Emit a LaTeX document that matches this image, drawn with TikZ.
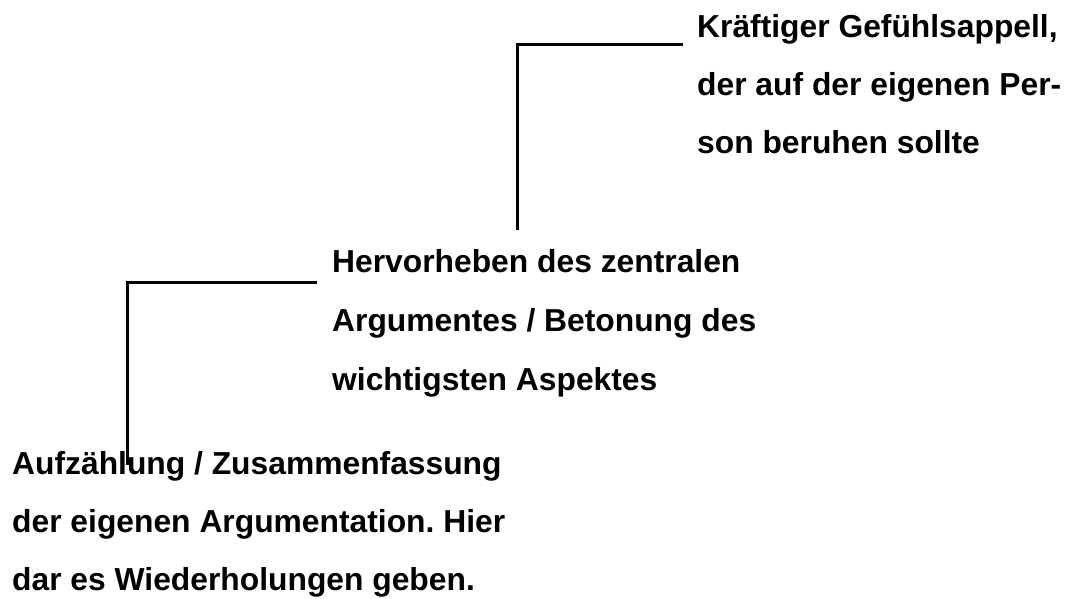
\documentclass[tikz,border=0pt]{standalone}
\usepackage{fontspec}
\setmainfont{Liberation Sans}
\usetikzlibrary{calc}
\frenchspacing
\begin{document}
\begin{tikzpicture}[x=1pt,y=-1pt,
  txt/.style={anchor=base west,inner sep=0pt,font=\fontsize{31.8pt}{38pt}\selectfont\bfseries},
  conn/.style={draw=black,line width=3pt}]
\useasboundingbox[fill=white] (0,0) rectangle (1070,598);
% block 1
\node[txt] (k1) at (697,37) {Kräftiger Gefühlsappell,};
\node[txt] (k2) at (697,95) {der auf der eigenen Per-};
\node[txt] (k3) at (697,153) {son beruhen sollte};
% block 2
\node[txt] (h1) at (332,272) {Hervorheben des zentralen};
\node[txt] (h2) at (332,331) {Argumentes / Betonung des};
\node[txt] (h3) at (332,390) {wichtigsten Aspektes};
% block 3
\node[txt] (a1) at (12,474) {Aufzählung / Zusammenfassung};
\node[txt] (a2) at (12,532) {der eigenen Argumentation.\ Hier};
\node[txt] (a3) at (12,590) {dar es Wiederholungen geben.};
% connectors
\coordinate (t1) at (517,230);
\coordinate (t2) at (127,465);
\draw[conn] (t1) |- ($(k1.base west)+(-14,7)$);
\draw[conn] (t2) |- ($(h1.base west)+(-15,10)$);
\end{tikzpicture}
\end{document}
